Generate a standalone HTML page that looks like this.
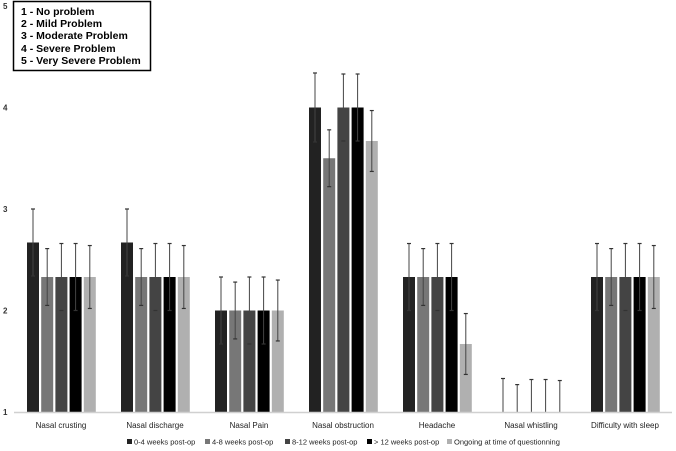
<!DOCTYPE html>
<html><head><meta charset="utf-8"><style>
body{margin:0;background:#fff;}
svg{display:block;font-family:"Liberation Sans",Arial,sans-serif;}
</style></head><body>
<svg id="chart" width="676" height="451">
<g id="bars"></g>
<g id="labels"></g>
<rect x="13.5" y="1.5" width="137" height="69" fill="#fff" stroke="#000" stroke-width="1.5"/>
<g font-size="10.5" font-weight="bold" fill="#000">
<text x="21" y="15">1 - No problem</text>
<text x="21" y="27">2 - Mild Problem</text>
<text x="21" y="39">3 - Moderate Problem</text>
<text x="21" y="52">4 - Severe Problem</text>
<text x="21" y="64">5 - Very Severe Problem</text>
</g>
</svg>
<script>
const categories=["Nasal crusting","Nasal discharge","Nasal Pain","Nasal obstruction","Headache","Nasal whistling","Difficulty with sleep"];
const seriesNames=["0-4 weeks post-op","4-8 weeks post-op","8-12 weeks post-op","> 12 weeks post-op","Ongoing at time of questionning"];
const s1=[2.67,2.67,2,4,2.33,1,2.33];
const s2=[2.33,2.33,2,3.5,2.33,1,2.33];
const s3=[2.33,2.33,2,4,2.33,1,2.33];
const s4=[2.33,2.33,2,4,2.33,1,2.33];
const s5=[2.33,2.33,2,3.67,1.67,1,2.33];
const e1=[0.33,0.33,0.33,0.34,0.33,0.33,0.33];
const e2=[0.28,0.28,0.28,0.28,0.28,0.27,0.28];
const e3=[0.33,0.33,0.33,0.33,0.33,0.32,0.33];
const e4=[0.33,0.33,0.33,0.33,0.33,0.32,0.33];
const e5=[0.31,0.31,0.30,0.30,0.30,0.31,0.31];
const yTicks=[1,2,3,4,5];
const colors=["#222","#777","#444","#000","#b0b0b0"];
const series=[s1,s2,s3,s4,s5], errs=[e1,e2,e3,e4,e5];
const NS="http://www.w3.org/2000/svg";
const y=v=>412-(v-1)*101.5;
const groupW=94, x0=14;
const xc=i=>x0+groupW*(i+0.5);
const bars=document.getElementById('bars'), labels=document.getElementById('labels');
function mk(tag,attrs,parent){const e=document.createElementNS(NS,tag);for(const k in attrs)e.setAttribute(k,attrs[k]);parent.appendChild(e);return e;}
const ax=mk('line',{x1:14,x2:672,y1:412.5,y2:412.5,stroke:'#d0d0d0','stroke-width':1.5},labels);


yTicks.forEach(t=>{
 const tx=mk('text',{x:3,y:y(t)+3,'font-size':8,'font-weight':'bold',fill:'#333'},labels);
 tx.textContent=t;
 
 
});
categories.forEach((c,i)=>{
 const tx=mk('text',{x:xc(i),y:428,'font-size':8,'text-anchor':'middle',fill:'#222'},labels);
 tx.textContent=c;
 
 
 series.forEach((s,j)=>{
  const bx=xc(i)-34+j*14.2;
  const v=s[i];
  if(v>1){
   const r=mk('rect',{x:bx,y:y(v),width:12,height:y(1)-y(v),fill:colors[j]},bars);
   
   
  }
  const cx=bx+6, top=y(v+errs[j][i]), bot=Math.min(y(1),y(v-errs[j][i]));
  const l=mk('line',{x1:cx,x2:cx,y1:top,y2:bot,stroke:'#444','stroke-width':1},bars);
  
  
  mk('line',{x1:cx-2,x2:cx+2,y1:top,y2:top,stroke:'#333','stroke-width':1.2},bars);
  if(v>1) mk('line',{x1:cx-2,x2:cx+2,y1:bot,y2:bot,stroke:'#333','stroke-width':1.2},bars);
 });
});
const lx=[136,214,294,376,456];
seriesNames.forEach((n,j)=>{
 const r=mk('rect',{x:lx[j]-9,y:439,width:5,height:5,fill:colors[j]},labels);
 
 
 const t=mk('text',{x:lx[j]-2,y:444.5,'font-size':7.5,fill:'#222'},labels);
 t.textContent=n;
 
 
});
</script>
</body></html>
